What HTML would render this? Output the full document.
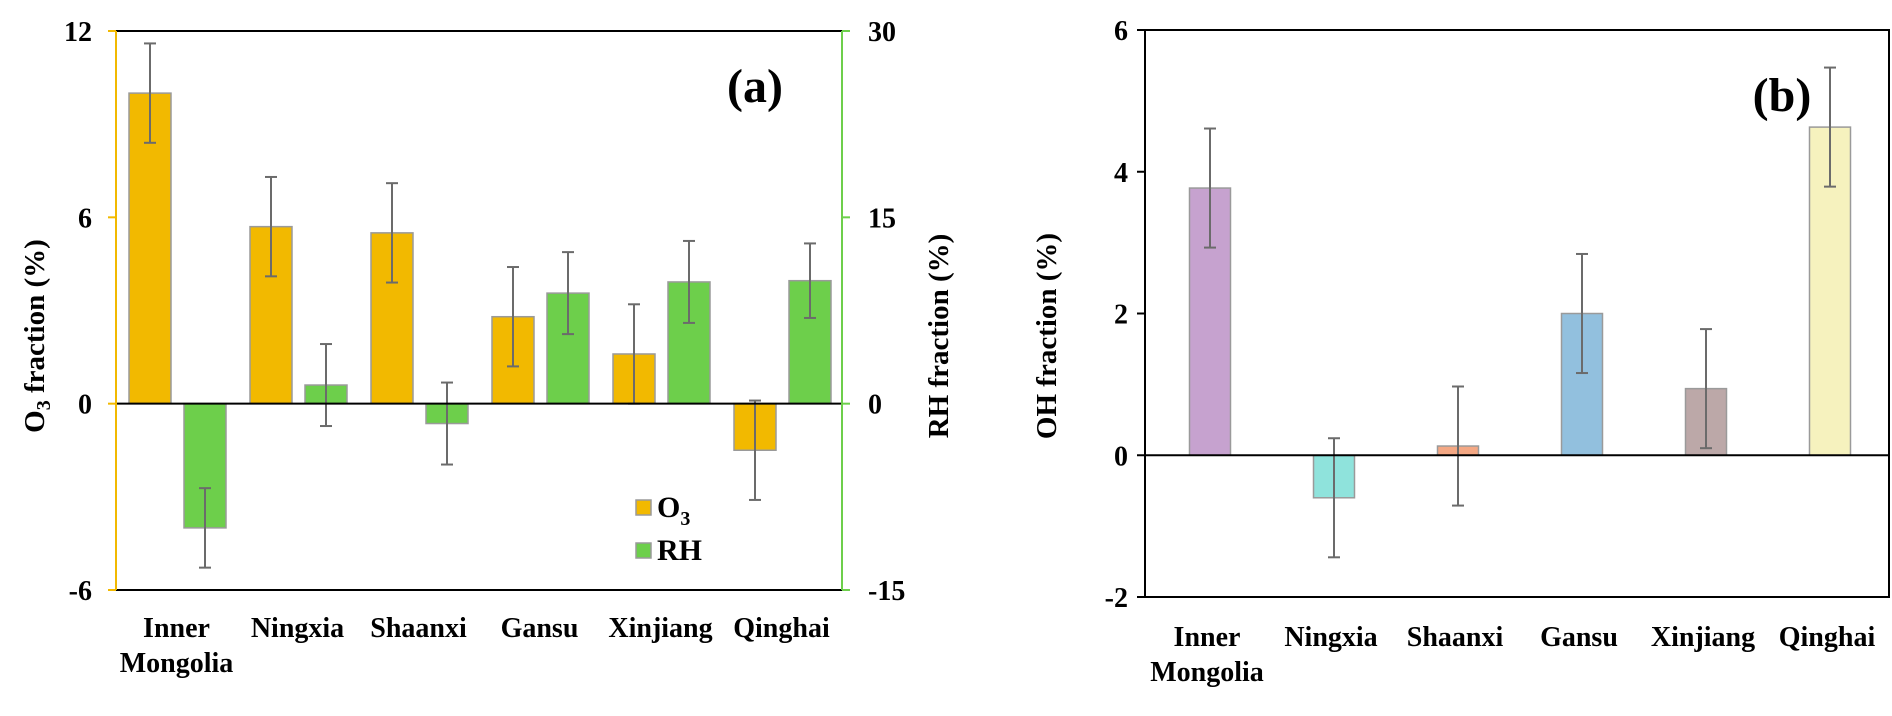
<!DOCTYPE html>
<html><head><meta charset="utf-8"><style>
body{margin:0;background:#fff;}
svg text{font-family:"Liberation Serif",serif;font-weight:bold;fill:#000;}
</style></head><body>
<svg id="chart" width="1892" height="693" viewBox="0 0 1892 693" xmlns="http://www.w3.org/2000/svg"></svg>
<script>
const categories = ["Inner|Mongolia","Ningxia","Shaanxi","Gansu","Xinjiang","Qinghai"];
const o3Values = [10.0, 5.7, 5.5, 2.8, 1.6, -1.5];
const o3Errors = [1.6, 1.6, 1.6, 1.6, 1.6, 1.6];
const rhValues = [-10.0, 1.5, -1.6, 8.9, 9.8, 9.9];
const rhErrors = [3.2, 3.3, 3.3, 3.3, 3.3, 3.0];
const ohValues = [3.77, -0.6, 0.13, 2.0, 0.94, 4.63];
const ohErrors = [0.84, 0.84, 0.84, 0.84, 0.84, 0.84];
const o3Ticks = [12, 6, 0, -6];
const rhTicks = [30, 15, 0, -15];
const ohTicks = [6, 4, 2, 0, -2];
const ohColors = ["#c6a2cf","#8fe3dc","#f4a884","#92c0de","#bca8a8","#f6f2be"];

const svg = document.getElementById('chart');
const NS = "http://www.w3.org/2000/svg";
function mk(tag, attrs, parent){const e=document.createElementNS(NS,tag);for(const k in attrs)e.setAttribute(k,attrs[k]);(parent||svg).appendChild(e);return e;}

// ---- Panel (a) ----
const aL=116,aR=842,aT=31,aB=590;
const yO3 = v => aT + (12 - v) / 18 * (aB - aT);
const yRH = v => aT + (30 - v) / 45 * (aB - aT);
const gA = (aR - aL) / 6;
function errBar(x, y1, y2, name){
  const g = mk('g', {});
  
  
  mk('line',{x1:x,x2:x,y1:y1,y2:y2,stroke:'#6b6b6b','stroke-width':2},g);
  mk('line',{x1:x-6,x2:x+6,y1:y1,y2:y1,stroke:'#6b6b6b','stroke-width':2},g);
  mk('line',{x1:x-6,x2:x+6,y1:y2,y2:y2,stroke:'#6b6b6b','stroke-width':2},g);
}
function bar(x,w,y0,y1,fill,name){
  const r = mk('rect',{x:x,y:Math.min(y0,y1),width:w,height:Math.abs(y1-y0),fill:fill,stroke:'#9a9a9a','stroke-width':1.5});
  
  
}
categories.forEach((c,i)=>{
  const gx = aL + gA*i;
  bar(gx+13,42,yO3(0),yO3(o3Values[i]),'#f2b900','bar-o3-'+i);
  bar(gx+68,42,yRH(0),yRH(rhValues[i]),'#6dcf4b','bar-rh-'+i);
  errBar(gx+34, yO3(o3Values[i]+o3Errors[i]), yO3(o3Values[i]-o3Errors[i]), 'error-o3-'+i);
  errBar(gx+89, yRH(rhValues[i]+rhErrors[i]), yRH(rhValues[i]-rhErrors[i]), 'error-rh-'+i);
  const t = mk('text',{x:gx+gA/2,y:637,'text-anchor':'middle','font-size':28});
  
  
  c.split('|').forEach((p,k)=>{const s=mk('tspan',{x:gx+gA/2,dy:k?35:0},t);s.textContent=p;});
});
mk('line',{x1:aL,x2:aR,y1:aT,y2:aT,stroke:'#000','stroke-width':2});
mk('line',{x1:aL,x2:aR,y1:aB,y2:aB,stroke:'#000','stroke-width':2});
mk('line',{x1:aL,x2:aR,y1:yO3(0),y2:yO3(0),stroke:'#000','stroke-width':2});
mk('line',{x1:aL,x2:aL,y1:aT,y2:aB,stroke:'#f2b900','stroke-width':2});
mk('line',{x1:aR,x2:aR,y1:aT,y2:aB,stroke:'#6dcf4b','stroke-width':2});
o3Ticks.forEach(v=>{
  mk('line',{x1:aL-8,x2:aL,y1:yO3(v),y2:yO3(v),stroke:'#f2b900','stroke-width':2});
  const t=mk('text',{x:aL-24,y:yO3(v)+10,'text-anchor':'end','font-size':28});t.textContent=v;
  
  
});
rhTicks.forEach(v=>{
  mk('line',{x1:aR,x2:aR+8,y1:yRH(v),y2:yRH(v),stroke:'#6dcf4b','stroke-width':2});
  const t=mk('text',{x:aR+26,y:yRH(v)+10,'text-anchor':'start','font-size':28});t.textContent=v;
  
  
});
</script>
<svg width="0" height="0"></svg>
<script>
// titles, legend, panel (b)
(function(){
const svg=document.getElementById('chart');const NS="http://www.w3.org/2000/svg";
function mk(tag,a,p){const e=document.createElementNS(NS,tag);for(const k in a)e.setAttribute(k,a[k]);(p||svg).appendChild(e);return e;}
let t=mk('text',{x:0,y:0,'text-anchor':'middle','font-size':29,transform:'translate(44,336) rotate(-90)'});

t.innerHTML='O<tspan font-size="20" dy="6">3</tspan><tspan dy="-6"> fraction (%)</tspan>';
t=mk('text',{x:0,y:0,'text-anchor':'middle','font-size':29,transform:'translate(948,336) rotate(-90)'});
t.textContent='RH fraction (%)';
t=mk('text',{x:755,y:102,'text-anchor':'middle','font-size':48});t.textContent='(a)';

// legend
let r=mk('rect',{x:636,y:500,width:15,height:15,fill:'#f2b900',stroke:'#9a9a9a','stroke-width':1.5});

t=mk('text',{x:657,y:517,'font-size':30});t.innerHTML='O<tspan font-size="20" dy="8">3</tspan>';

r=mk('rect',{x:636,y:543,width:15,height:15,fill:'#6dcf4b',stroke:'#9a9a9a','stroke-width':1.5});

t=mk('text',{x:657,y:560,'font-size':30});t.textContent='RH';


// panel (b)
const bL=1145,bR=1889,bT=30,bB=597;
const yOH=v=>bT+(6-v)/8*(bB-bT);
const gB=(bR-bL)/6;
categories.forEach((c,i)=>{
  const cx=bL+gB*i+gB/2+3;
  const y0=yOH(0),y1=yOH(ohValues[i]);
  const b=mk('rect',{x:cx-20.5,y:Math.min(y0,y1),width:41,height:Math.abs(y1-y0),fill:ohColors[i],stroke:'#9a9a9a','stroke-width':1.5});
  
  const e1=yOH(ohValues[i]+ohErrors[i]),e2=yOH(ohValues[i]-ohErrors[i]);
  const g=mk('g',{});
  mk('line',{x1:cx,x2:cx,y1:e1,y2:e2,stroke:'#6b6b6b','stroke-width':2},g);
  mk('line',{x1:cx-6,x2:cx+6,y1:e1,y2:e1,stroke:'#6b6b6b','stroke-width':2},g);
  mk('line',{x1:cx-6,x2:cx+6,y1:e2,y2:e2,stroke:'#6b6b6b','stroke-width':2},g);
  const tx=mk('text',{x:bL+gB*i+gB/2,y:646,'text-anchor':'middle','font-size':28});
  
  c.split('|').forEach((p,k)=>{const s=mk('tspan',{x:bL+gB*i+gB/2,dy:k?35:0},tx);s.textContent=p;});
});
const box=mk('rect',{x:bL,y:bT,width:bR-bL,height:bB-bT,fill:'none',stroke:'#000','stroke-width':2});

mk('line',{x1:bL,x2:bR,y1:yOH(0),y2:yOH(0),stroke:'#000','stroke-width':2});
ohTicks.forEach(v=>{
  mk('line',{x1:bL-8,x2:bL,y1:yOH(v),y2:yOH(v),stroke:'#000','stroke-width':2});
  const tt=mk('text',{x:bL-17,y:yOH(v)+10,'text-anchor':'end','font-size':28});tt.textContent=v;
  
});
t=mk('text',{x:0,y:0,'text-anchor':'middle','font-size':29,transform:'translate(1056,336) rotate(-90)'});
t.textContent='OH fraction (%)';
t=mk('text',{x:1782,y:111,'text-anchor':'middle','font-size':48});t.textContent='(b)';

})();
</script>
</body></html>
